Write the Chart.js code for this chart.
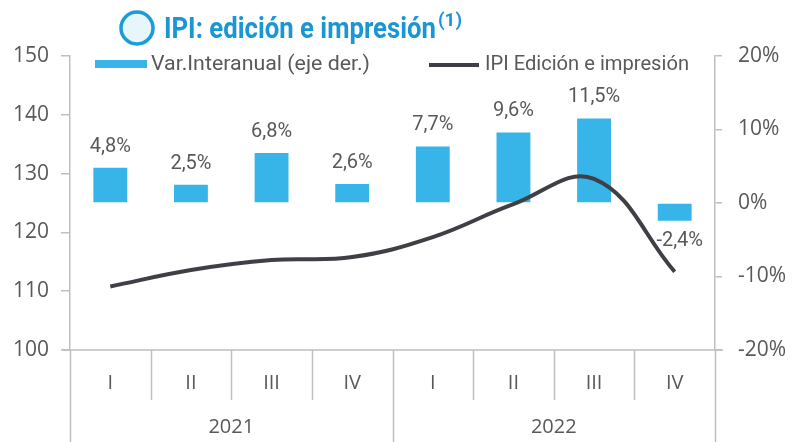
<!DOCTYPE html>
<html>
<head>
<meta charset="utf-8">
<script src="https://cdn.jsdelivr.net/npm/chart.js@4.4.1/dist/chart.umd.min.js"></script>
<style>
  body { margin: 0; background: #fff; }
  #chart { display: block; }
</style>
</head>
<body>
<canvas id="chart" width="798" height="442"></canvas>
<script>
// DATA
const quarters = ["I", "II", "III", "IV", "I", "II", "III", "IV"];
const years = ["2021", "2022"];
const varInteranual = [4.8, 2.5, 6.8, 2.6, 7.7, 9.6, 11.5, -2.4];
const ipiEdicion = [110.8, 113.6, 115.3, 115.8, 119.2, 124.8, 129.1, 113.3];
const leftTicks = [100, 110, 120, 130, 140, 150];
const rightTicks = [-20, -10, 0, 10, 20];

const BLUE = "#37b5e8";
const LINE = "#3f3f46";
const AXIS = "#bfbfbf";
const TEXT = "#595959";

// draws text squeezed/stretched to a given width
function fitText(c, txt, x, y, width) {
    const w = c.measureText(txt).width;
    c.save();
    c.translate(x, y);
    c.scale(width / w, 1);
    c.fillText(txt, 0, 0);
    c.restore();
}

// title, legend, value labels and the category axis are drawn by hand
const decorations = {
    id: "decorations",
    afterDatasetsDraw(chart) {
        const c = chart.ctx;
        const meta = chart.getDatasetMeta(0);
        c.save();
        c.fillStyle = TEXT;
        c.font = "20px Roboto";
        c.textAlign = "center";
        c.textBaseline = "middle";
        meta.data.forEach((bar, i) => {
            const v = varInteranual[i];
            const txt = v.toFixed(1).replace(".", ",") + "%";
            const y = v >= 0 ? bar.y - 21 : bar.y + 20;
            c.fillText(txt, bar.x + (v >= 0 ? 0 : 5), y);
        });
        c.restore();
    },
    afterDraw(chart) {
        const c = chart.ctx;
        const x = chart.scales.x;
        const area = chart.chartArea;
        const step = x.getPixelForValue(1) - x.getPixelForValue(0);
        c.save();

        // category axis
        c.strokeStyle = AXIS;
        c.lineWidth = 1.5;
        c.beginPath();
        c.moveTo(area.left - 8, area.bottom);
        c.lineTo(area.right + 8, area.bottom);
        for (let i = 0; i <= quarters.length; i++) {
            const px = Math.round(x.getPixelForValue(i) - step / 2) + 0.5;
            const end = i % 4 === 0 ? 442 : 400;
            c.moveTo(px, area.bottom);
            c.lineTo(px, end);
        }
        c.stroke();

        c.fillStyle = TEXT;
        c.font = "20px 'Open Sans'";
        c.textAlign = "center";
        c.textBaseline = "middle";
        quarters.forEach((q, i) => c.fillText(q, x.getPixelForValue(i), 383));
        years.forEach((yr, j) => {
            const px = (x.getPixelForValue(j * 4 + 1) + x.getPixelForValue(j * 4 + 2)) / 2;
            c.fillText(yr, px, 427);
        });

        // legend
        c.fillStyle = BLUE;
        c.fillRect(95, 60, 52, 8);
        c.strokeStyle = LINE;
        c.lineWidth = 4;
        c.beginPath();
        c.moveTo(429, 65);
        c.lineTo(479, 65);
        c.stroke();
        c.fillStyle = TEXT;
        c.font = "20px Roboto";
        c.textAlign = "left";
        fitText(c, "Var.Interanual (eje der.)", 151, 65, 219);
        fitText(c, "IPI Edición e impresión", 485, 65, 204);

        // title
        c.beginPath();
        c.arc(137, 28, 16, 0, Math.PI * 2);
        c.fillStyle = "#e6f6fa";
        c.fill();
        c.strokeStyle = "#1b9bd7";
        c.lineWidth = 3.5;
        c.stroke();
        c.fillStyle = "#1b96d4";
        c.textBaseline = "alphabetic";
        c.font = "bold 30px Roboto";
        fitText(c, "IPI: edición e impresión", 164, 38, 272);
        c.font = "bold 18px Roboto";
        fitText(c, "(1)", 438, 26, 24);
        c.restore();
    }
};

const ctx = document.getElementById("chart");

const chart = new Chart(ctx, {
    type: "bar",
    data: {
        labels: quarters,
        datasets: [
            {
                type: "bar",
                label: "Var.Interanual (eje der.)",
                data: varInteranual,
                backgroundColor: BLUE,
                yAxisID: "y1",
                categoryPercentage: 1,
                barPercentage: 0.42,
                order: 2,
            },
            {
                type: "line",
                label: "IPI Edición e impresión",
                data: ipiEdicion,
                borderColor: LINE,
                borderWidth: 4,
                pointRadius: 0,
                tension: 0.4,
                yAxisID: "y",
                order: 1,
            },
        ],
    },
    options: {
        responsive: false,
        animation: false,
        layout: { padding: { top: 56, left: 0, right: 0, bottom: 0 } },
        plugins: {
            legend: { display: false },
            tooltip: { enabled: false },
        },
        scales: {
            x: {
                ticks: { display: false },
                grid: { display: false },
                border: { display: false },
                afterFit: (s) => { s.height = 92; },
            },
            y: {
                position: "left",
                min: 100,
                max: 150,
                afterBuildTicks: (s) => { s.ticks = leftTicks.map((v) => ({ value: v })); },
                ticks: {
                    color: TEXT,
                    font: { family: "'Open Sans'", size: 21 },
                    padding: 12,
                },
                grid: { drawOnChartArea: false, tickLength: 9, color: AXIS, lineWidth: 1.5 },
                border: { color: AXIS, width: 1.5 },
                afterFit: (s) => { s.width = 70; },
            },
            y1: {
                position: "right",
                min: -20,
                max: 20,
                afterBuildTicks: (s) => { s.ticks = rightTicks.map((v) => ({ value: v })); },
                ticks: {
                    color: TEXT,
                    font: { family: "'Open Sans'", size: 21 },
                    padding: 16,
                    callback: (v) => v + "%",
                },
                grid: { drawOnChartArea: false, tickLength: 7, color: AXIS, lineWidth: 1.5 },
                border: { color: AXIS, width: 1.5 },
                afterFit: (s) => { s.width = 83; },
            },
        },
    },
    plugins: [decorations],
});
</script>
</body>
</html>
